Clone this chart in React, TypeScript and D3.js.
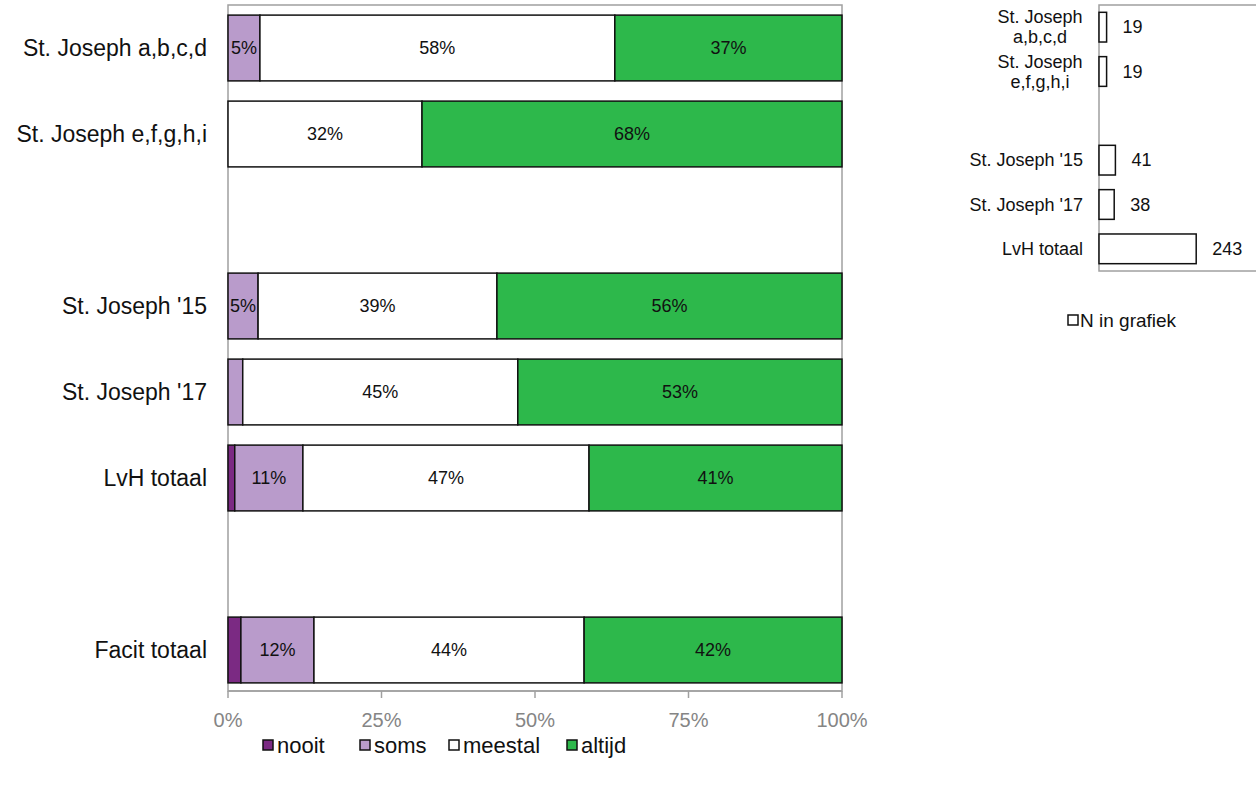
import React, { useEffect, useRef } from 'react';
import * as d3 from 'd3';

// categorie rijen (lege rijen zijn tussenruimte)
const categories = ['St. Joseph a,b,c,d', 'St. Joseph e,f,g,h,i', '', "St. Joseph '15", "St. Joseph '17", 'LvH totaal', '', 'Facit totaal'];
const seriesNames = ['nooit', 'soms', 'meestal', 'altijd'];
const seriesColors = ['#7B2A83', '#B99BCB', '#FFFFFF', '#2DB84B'];
const nooit = [0, 0, null, 0, 0, 1.1, null, 2.1];
const soms = [5.2, 0, null, 4.9, 2.4, 11.1, null, 11.9];
const meestal = [57.8, 31.6, null, 38.9, 44.8, 46.6, null, 44.0];
const altijd = [37.0, 68.4, null, 56.2, 52.8, 41.2, null, 42.0];
const xTicks = [0, 25, 50, 75, 100];

// N in grafiek
const nCategories = ['St. Joseph|a,b,c,d', 'St. Joseph|e,f,g,h,i', '', "St. Joseph '15", "St. Joseph '17", 'LvH totaal'];
const nValues = [19, 19, null, 41, 38, 243];

const W = 1256;
const H = 787;

const App = () => {
  const svgRef = useRef(null);

  useEffect(() => {
    const svg = d3.select(svgRef.current);
    svg.selectAll('*').remove();

    const font = 'Liberation Sans, Arial, sans-serif';
    const series = [nooit, soms, meestal, altijd];

    // hoofdgrafiek
    const x = d3.scaleLinear().domain([0, 100]).range([228, 842]);
    const y = d3
      .scaleBand()
      .domain(categories.map((_, i) => String(i)))
      .range([5, 693])
      .paddingInner(0.235)
      .paddingOuter(0.1175);
    const axisY = 691;

    // plot rand
    svg
      .append('rect')
      .attr('x', x(0))
      .attr('y', 5)
      .attr('width', x(100) - x(0))
      .attr('height', axisY - 5)
      .attr('fill', 'none')
      .attr('stroke', '#A0A0A0')
      .attr('stroke-width', 1.5);

    // balken
    categories.forEach((cat, i) => {
      if (series[0][i] === null) return;
      let acc = 0;
      series.forEach((s, si) => {
        const v = s[i] as number;
        const x0 = x(acc);
        const x1 = x(acc + v);
        acc += v;
        if (v <= 0) return;
        svg
          .append('rect')
          .attr('x', x0)
          .attr('y', y(String(i)))
          .attr('width', x1 - x0)
          .attr('height', y.bandwidth())
          .attr('fill', seriesColors[si])
          .attr('stroke', '#111')
          .attr('stroke-width', 1.5);
        if (v >= 4) {
          svg
            .append('text')
            .attr('x', (x0 + x1) / 2)
            .attr('y', y(String(i)) + y.bandwidth() / 2)
            .attr('dy', '0.35em')
            .attr('text-anchor', 'middle')
            .attr('font-family', font)
            .attr('font-size', 18)
            .attr('fill', '#111')
            .text(`${Math.round(v)}%`);
        }
      });
      svg
        .append('text')
        .attr('x', 207)
        .attr('y', y(String(i)) + y.bandwidth() / 2)
        .attr('dy', '0.35em')
        .attr('text-anchor', 'end')
        .attr('font-family', font)
        .attr('font-size', 23)
        .attr('fill', '#111')
        .text(cat);
    });

    // x as
    svg
      .append('line')
      .attr('x1', x(0))
      .attr('x2', x(100))
      .attr('y1', axisY)
      .attr('y2', axisY)
      .attr('stroke', '#A0A0A0')
      .attr('stroke-width', 1.5);
    xTicks.forEach((t) => {
      svg
        .append('line')
        .attr('x1', x(t))
        .attr('x2', x(t))
        .attr('y1', axisY)
        .attr('y2', axisY + 7)
        .attr('stroke', '#A0A0A0')
        .attr('stroke-width', 1.5);
      svg
        .append('text')
        .attr('x', x(t))
        .attr('y', 720)
        .attr('dy', '0.35em')
        .attr('text-anchor', 'middle')
        .attr('font-family', font)
        .attr('font-size', 20)
        .attr('fill', '#858585')
        .text(`${t}%`);
    });

    // legenda
    const legendX = [263, 360, 449, 567];
    seriesNames.forEach((name, i) => {
      svg
        .append('rect')
        .attr('x', legendX[i])
        .attr('y', 740)
        .attr('width', 10)
        .attr('height', 10)
        .attr('fill', seriesColors[i])
        .attr('stroke', '#111')
        .attr('stroke-width', 1.5);
      svg
        .append('text')
        .attr('x', legendX[i] + 14)
        .attr('y', 745)
        .attr('dy', '0.35em')
        .attr('font-family', font)
        .attr('font-size', 22)
        .attr('fill', '#111')
        .text(name);
    });

    // N grafiek
    const nx = d3.scaleLinear().domain([0, 400]).range([1099, 1259]);
    const ny = d3
      .scaleBand()
      .domain(nCategories.map((_, i) => String(i)))
      .range([5, 271])
      .paddingInner(0.33)
      .paddingOuter(0.165);

    svg
      .append('rect')
      .attr('x', nx(0))
      .attr('y', 5)
      .attr('width', 200)
      .attr('height', 266)
      .attr('fill', 'none')
      .attr('stroke', '#A0A0A0')
      .attr('stroke-width', 1.5);

    nCategories.forEach((cat, i) => {
      const v = nValues[i];
      if (v === null) return;
      const cy = ny(String(i)) + ny.bandwidth() / 2;
      svg
        .append('rect')
        .attr('x', nx(0))
        .attr('y', ny(String(i)))
        .attr('width', nx(v) - nx(0))
        .attr('height', ny.bandwidth())
        .attr('fill', '#fff')
        .attr('stroke', '#111')
        .attr('stroke-width', 1.5);
      svg
        .append('text')
        .attr('x', nx(v) + 16)
        .attr('y', cy)
        .attr('dy', '0.35em')
        .attr('font-family', font)
        .attr('font-size', 18)
        .attr('fill', '#111')
        .text(v);
      const lines = cat.split('|');
      if (lines.length > 1) {
        lines.forEach((ln, li) => {
          svg
            .append('text')
            .attr('x', 1040)
            .attr('y', cy + (li - 0.5) * 20)
            .attr('dy', '0.35em')
            .attr('text-anchor', 'middle')
            .attr('font-family', font)
            .attr('font-size', 18)
            .attr('fill', '#111')
            .text(ln);
        });
      } else {
        svg
          .append('text')
          .attr('x', 1083)
          .attr('y', cy)
          .attr('dy', '0.35em')
          .attr('text-anchor', 'end')
          .attr('font-family', font)
          .attr('font-size', 18)
          .attr('fill', '#111')
          .text(cat);
      }
    });

    // N legenda
    svg
      .append('rect')
      .attr('x', 1068)
      .attr('y', 315)
      .attr('width', 10)
      .attr('height', 10)
      .attr('fill', '#fff')
      .attr('stroke', '#111')
      .attr('stroke-width', 1.5);
    svg
      .append('text')
      .attr('x', 1080)
      .attr('y', 320)
      .attr('dy', '0.35em')
      .attr('font-family', font)
      .attr('font-size', 19)
      .attr('fill', '#111')
      .text('N in grafiek');
  }, []);

  return (
    <svg
      ref={svgRef}
      width={W}
      height={H}
      style={{ position: 'absolute', left: 0, top: 0, background: '#fff' }}
    ></svg>
  );
};

export default App;
